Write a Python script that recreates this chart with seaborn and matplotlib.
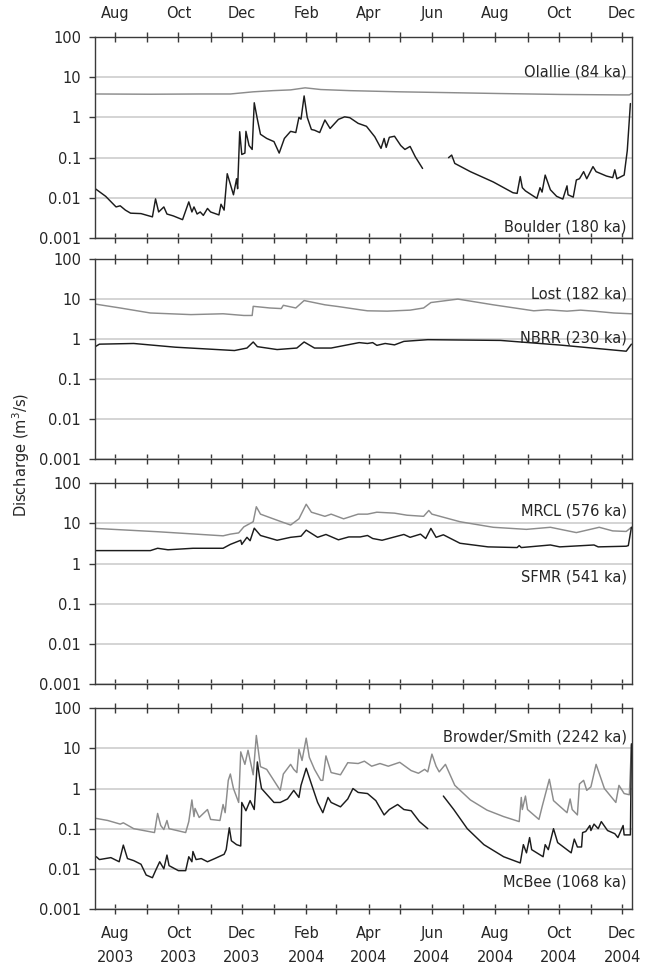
import numpy as np
import pandas as pd
import matplotlib
matplotlib.use("Agg")
import matplotlib.pyplot as plt
import matplotlib.dates as mdates
from matplotlib.ticker import FixedLocator, FuncFormatter, NullLocator
import seaborn as sns

# --- DATA (discharge in m3/s) ---
# gaps in a record are marked with NaN

OLALLIE = [
    ("2003-07-13", 3.8), ("2003-09-04", 3.75), ("2003-10-22", 3.8), ("2003-11-20", 3.8),
    ("2003-12-12", 4.3), ("2003-12-31", 4.6), ("2004-01-17", 4.8), ("2004-01-31", 5.4),
    ("2004-02-15", 4.9), ("2004-03-14", 4.6), ("2004-05-01", 4.3), ("2004-06-18", 4.1),
    ("2004-08-05", 3.9), ("2004-10-03", 3.7), ("2004-11-30", 3.6), ("2004-12-08", 3.6),
    ("2004-12-10", 3.9),
]

BOULDER = [
    ("2003-07-13", 0.017), ("2003-07-23", 0.011), ("2003-08-02", 0.006), ("2003-08-06", 0.0064),
    ("2003-08-11", 0.005), ("2003-08-16", 0.0042), ("2003-08-26", 0.0041), ("2003-09-06", 0.0034),
    ("2003-09-09", 0.0095), ("2003-09-12", 0.0045), ("2003-09-17", 0.006), ("2003-09-20", 0.004),
    ("2003-09-26", 0.0036), ("2003-10-05", 0.0029), ("2003-10-11", 0.008), ("2003-10-14", 0.0045),
    ("2003-10-16", 0.006), ("2003-10-19", 0.004), ("2003-10-22", 0.0045), ("2003-10-25", 0.0037),
    ("2003-10-29", 0.0055), ("2003-11-01", 0.0045), ("2003-11-09", 0.0038), ("2003-11-11", 0.007),
    ("2003-11-14", 0.005), ("2003-11-17", 0.04), ("2003-11-20", 0.022), ("2003-11-23", 0.012),
    ("2003-11-26", 0.03), ("2003-11-27", 0.017), ("2003-11-29", 0.44), ("2003-12-01", 0.12),
    ("2003-12-04", 0.13), ("2003-12-05", 0.45), ("2003-12-08", 0.2), ("2003-12-11", 0.16),
    ("2003-12-13", 2.3), ("2003-12-16", 0.9), ("2003-12-19", 0.38), ("2003-12-25", 0.3),
    ("2004-01-01", 0.25), ("2004-01-06", 0.13), ("2004-01-11", 0.3), ("2004-01-17", 0.45),
    ("2004-01-22", 0.42), ("2004-01-25", 1.0), ("2004-01-27", 0.9), ("2004-01-30", 3.4),
    ("2004-02-02", 1.0), ("2004-02-06", 0.5), ("2004-02-09", 0.48), ("2004-02-14", 0.42),
    ("2004-02-19", 0.86), ("2004-02-24", 0.53), ("2004-03-03", 0.89), ("2004-03-09", 1.03),
    ("2004-03-14", 0.98), ("2004-03-22", 0.71), ("2004-03-30", 0.6), ("2004-04-07", 0.33),
    ("2004-04-13", 0.17), ("2004-04-16", 0.3), ("2004-04-18", 0.18), ("2004-04-21", 0.32),
    ("2004-04-26", 0.34), ("2004-05-02", 0.2), ("2004-05-06", 0.16), ("2004-05-11", 0.19),
    ("2004-05-16", 0.105), ("2004-05-23", 0.054), ("2004-06-05", np.nan), ("2004-06-17", 0.1),
    ("2004-06-20", 0.116), ("2004-06-23", 0.072), ("2004-07-08", 0.045), ("2004-07-30", 0.025),
    ("2004-08-18", 0.0135), ("2004-08-22", 0.013), ("2004-08-25", 0.034), ("2004-08-27", 0.018),
    ("2004-08-30", 0.015), ("2004-09-10", 0.0098), ("2004-09-13", 0.018), ("2004-09-15", 0.014),
    ("2004-09-18", 0.037), ("2004-09-23", 0.016), ("2004-09-29", 0.011), ("2004-10-05", 0.0094),
    ("2004-10-09", 0.02), ("2004-10-10", 0.012), ("2004-10-15", 0.0105), ("2004-10-18", 0.028),
    ("2004-10-21", 0.03), ("2004-10-25", 0.045), ("2004-10-28", 0.03), ("2004-11-03", 0.06),
    ("2004-11-06", 0.045), ("2004-11-16", 0.035), ("2004-11-22", 0.032), ("2004-11-24", 0.05),
    ("2004-11-26", 0.03), ("2004-12-03", 0.037), ("2004-12-06", 0.15), ("2004-12-09", 2.2),
]

LOST = [
    ("2003-07-13", 7.5), ("2003-08-06", 6.0), ("2003-09-04", 4.5), ("2003-10-13", 4.1),
    ("2003-11-13", 4.3), ("2003-12-03", 3.9), ("2003-12-11", 3.9), ("2003-12-12", 6.6),
    ("2003-12-28", 6.0), ("2004-01-08", 5.8), ("2004-01-10", 7.0), ("2004-01-22", 6.0),
    ("2004-01-30", 9.2), ("2004-02-19", 7.2), ("2004-03-03", 6.5), ("2004-03-24", 5.4),
    ("2004-03-31", 5.1), ("2004-04-19", 5.0), ("2004-05-11", 5.3), ("2004-05-24", 6.0),
    ("2004-05-31", 8.2), ("2004-06-26", 10.0), ("2004-07-30", 7.2), ("2004-09-07", 5.1),
    ("2004-09-20", 5.4), ("2004-10-09", 5.0), ("2004-10-22", 5.3), ("2004-11-04", 5.0),
    ("2004-11-23", 4.5), ("2004-12-10", 4.3),
]

NBRR = [
    ("2003-07-13", 0.65), ("2003-07-17", 0.75), ("2003-08-19", 0.78), ("2003-09-28", 0.63),
    ("2003-11-24", 0.52), ("2003-12-06", 0.6), ("2003-12-12", 0.85), ("2003-12-16", 0.65),
    ("2004-01-04", 0.55), ("2004-01-23", 0.6), ("2004-01-30", 0.85), ("2004-02-09", 0.6),
    ("2004-02-25", 0.6), ("2004-03-23", 0.82), ("2004-03-31", 0.78), ("2004-04-05", 0.82),
    ("2004-04-09", 0.7), ("2004-04-17", 0.78), ("2004-04-26", 0.72), ("2004-05-05", 0.88),
    ("2004-05-28", 0.97), ("2004-08-06", 0.93), ("2004-10-03", 0.71), ("2004-12-05", 0.5),
    ("2004-12-10", 0.75),
]

MRCL = [
    ("2003-07-13", 7.5), ("2003-09-11", 6.2), ("2003-11-13", 4.9), ("2003-11-20", 5.4),
    ("2003-11-28", 5.8), ("2003-12-03", 8.2), ("2003-12-12", 11.0), ("2003-12-15", 26.0),
    ("2003-12-19", 17.0), ("2004-01-04", 12.0), ("2004-01-17", 9.1), ("2004-01-25", 13.0),
    ("2004-02-01", 30.0), ("2004-02-06", 19.0), ("2004-02-19", 15.0), ("2004-02-25", 17.0),
    ("2004-03-08", 13.0), ("2004-03-22", 17.0), ("2004-03-31", 17.0), ("2004-04-09", 19.0),
    ("2004-04-26", 18.0), ("2004-05-08", 16.0), ("2004-05-24", 15.0), ("2004-05-29", 21.0),
    ("2004-06-01", 17.0), ("2004-06-28", 11.0), ("2004-07-30", 8.0), ("2004-08-31", 7.1),
    ("2004-09-23", 8.0), ("2004-10-18", 5.9), ("2004-11-09", 8.0), ("2004-11-22", 6.5),
    ("2004-12-05", 6.3), ("2004-12-10", 8.0),
]

SFMR = [
    ("2003-07-13", 2.1), ("2003-09-04", 2.1), ("2003-09-11", 2.4), ("2003-09-21", 2.2),
    ("2003-10-15", 2.4), ("2003-11-13", 2.4), ("2003-11-20", 3.0), ("2003-11-30", 3.8),
    ("2003-12-01", 3.0), ("2003-12-06", 4.5), ("2003-12-09", 3.7), ("2003-12-13", 7.6),
    ("2003-12-19", 5.0), ("2004-01-04", 3.8), ("2004-01-17", 4.5), ("2004-01-27", 4.8),
    ("2004-02-01", 6.8), ("2004-02-12", 4.5), ("2004-02-20", 5.3), ("2004-03-03", 3.9),
    ("2004-03-13", 4.6), ("2004-03-24", 4.6), ("2004-03-31", 5.0), ("2004-04-05", 4.2),
    ("2004-04-14", 3.8), ("2004-05-05", 5.3), ("2004-05-11", 4.5), ("2004-05-21", 5.4),
    ("2004-05-26", 4.2), ("2004-05-31", 7.5), ("2004-06-05", 4.5), ("2004-06-12", 5.2),
    ("2004-06-28", 3.2), ("2004-07-25", 2.6), ("2004-08-22", 2.5), ("2004-08-24", 2.8),
    ("2004-08-26", 2.5), ("2004-09-23", 2.9), ("2004-10-02", 2.6), ("2004-11-04", 2.9),
    ("2004-11-08", 2.6), ("2004-12-05", 2.7), ("2004-12-07", 2.8), ("2004-12-10", 8.0),
]

BROWDER = [
    ("2003-07-14", 0.18), ("2003-07-25", 0.16), ("2003-08-06", 0.13), ("2003-08-09", 0.14),
    ("2003-08-19", 0.1), ("2003-09-08", 0.08), ("2003-09-11", 0.24), ("2003-09-14", 0.12),
    ("2003-09-17", 0.095), ("2003-09-20", 0.16), ("2003-09-22", 0.1), ("2003-10-08", 0.08),
    ("2003-10-11", 0.15), ("2003-10-14", 0.52), ("2003-10-16", 0.2), ("2003-10-17", 0.32),
    ("2003-10-21", 0.19), ("2003-10-29", 0.3), ("2003-11-01", 0.17), ("2003-11-10", 0.16),
    ("2003-11-13", 0.4), ("2003-11-15", 0.25), ("2003-11-18", 1.6), ("2003-11-20", 2.3),
    ("2003-11-23", 1.0), ("2003-11-28", 0.45), ("2003-11-30", 8.2), ("2003-12-04", 4.0),
    ("2003-12-07", 9.0), ("2003-12-12", 2.2), ("2003-12-15", 21.0), ("2003-12-19", 3.5),
    ("2003-12-25", 3.0), ("2004-01-07", 0.9), ("2004-01-10", 2.3), ("2004-01-17", 4.0),
    ("2004-01-20", 3.0), ("2004-01-23", 2.5), ("2004-01-25", 9.5), ("2004-01-28", 5.0),
    ("2004-02-01", 18.0), ("2004-02-04", 6.0), ("2004-02-09", 3.0), ("2004-02-15", 1.6),
    ("2004-02-17", 1.6), ("2004-02-20", 6.5), ("2004-02-25", 2.5), ("2004-03-05", 2.2),
    ("2004-03-12", 4.4), ("2004-03-22", 4.2), ("2004-03-28", 4.8), ("2004-04-04", 3.6),
    ("2004-04-12", 4.2), ("2004-04-20", 3.6), ("2004-05-01", 4.5), ("2004-05-12", 2.8),
    ("2004-05-19", 2.4), ("2004-05-25", 3.0), ("2004-05-28", 2.6), ("2004-06-01", 7.2),
    ("2004-06-05", 3.6), ("2004-06-08", 2.6), ("2004-06-14", 4.0), ("2004-06-23", 1.2),
    ("2004-07-08", 0.52), ("2004-07-24", 0.29), ("2004-08-09", 0.2), ("2004-08-24", 0.15),
    ("2004-08-26", 0.6), ("2004-08-27", 0.3), ("2004-08-30", 0.65), ("2004-09-01", 0.3),
    ("2004-09-12", 0.17), ("2004-09-15", 0.35), ("2004-09-22", 1.7), ("2004-09-26", 0.5),
    ("2004-10-09", 0.25), ("2004-10-12", 0.55), ("2004-10-14", 0.3), ("2004-10-19", 0.22),
    ("2004-10-21", 1.3), ("2004-10-25", 1.6), ("2004-10-28", 0.9), ("2004-11-01", 1.1),
    ("2004-11-06", 4.0), ("2004-11-14", 1.0), ("2004-11-25", 0.45), ("2004-11-28", 1.2),
    ("2004-12-03", 0.75), ("2004-12-08", 0.7), ("2004-12-10", 12.0),
]

MCBEE = [
    ("2003-07-14", 0.02), ("2003-07-17", 0.017), ("2003-07-28", 0.019), ("2003-08-05", 0.015),
    ("2003-08-09", 0.039), ("2003-08-13", 0.018), ("2003-08-19", 0.016), ("2003-08-26", 0.013),
    ("2003-08-31", 0.007), ("2003-09-06", 0.006), ("2003-09-09", 0.009), ("2003-09-13", 0.015),
    ("2003-09-17", 0.01), ("2003-09-20", 0.022), ("2003-09-22", 0.012), ("2003-10-01", 0.009),
    ("2003-10-08", 0.009), ("2003-10-11", 0.02), ("2003-10-14", 0.015), ("2003-10-15", 0.027),
    ("2003-10-18", 0.017), ("2003-10-23", 0.018), ("2003-10-29", 0.015), ("2003-11-05", 0.018),
    ("2003-11-14", 0.023), ("2003-11-16", 0.03), ("2003-11-19", 0.105), ("2003-11-21", 0.05),
    ("2003-11-26", 0.04), ("2003-11-30", 0.037), ("2003-12-01", 0.45), ("2003-12-05", 0.28),
    ("2003-12-09", 0.5), ("2003-12-13", 0.3), ("2003-12-16", 4.6), ("2003-12-18", 2.0),
    ("2003-12-20", 1.0), ("2003-12-29", 0.55), ("2004-01-01", 0.45), ("2004-01-07", 0.45),
    ("2004-01-14", 0.55), ("2004-01-20", 0.9), ("2004-01-25", 0.6), ("2004-01-27", 1.2),
    ("2004-02-01", 3.2), ("2004-02-06", 1.3), ("2004-02-12", 0.45), ("2004-02-17", 0.25),
    ("2004-02-22", 0.6), ("2004-02-25", 0.45), ("2004-03-05", 0.35), ("2004-03-12", 0.55),
    ("2004-03-17", 1.0), ("2004-03-22", 0.8), ("2004-03-31", 0.75), ("2004-04-08", 0.5),
    ("2004-04-16", 0.22), ("2004-04-21", 0.3), ("2004-04-29", 0.4), ("2004-05-05", 0.3),
    ("2004-05-12", 0.28), ("2004-05-20", 0.15), ("2004-05-28", 0.1), ("2004-06-05", np.nan),
    ("2004-06-12", 0.65), ("2004-06-22", 0.3), ("2004-07-05", 0.1), ("2004-07-21", 0.04),
    ("2004-08-09", 0.02), ("2004-08-25", 0.014), ("2004-08-28", 0.04), ("2004-08-31", 0.025),
    ("2004-09-03", 0.06), ("2004-09-05", 0.03), ("2004-09-16", 0.02), ("2004-09-18", 0.04),
    ("2004-09-21", 0.03), ("2004-09-26", 0.1), ("2004-09-30", 0.045), ("2004-10-13", 0.025),
    ("2004-10-16", 0.055), ("2004-10-19", 0.035), ("2004-10-23", 0.035), ("2004-10-24", 0.08),
    ("2004-10-27", 0.085), ("2004-10-31", 0.12), ("2004-11-01", 0.09), ("2004-11-04", 0.13),
    ("2004-11-08", 0.1), ("2004-11-11", 0.15), ("2004-11-17", 0.09), ("2004-11-24", 0.075),
    ("2004-11-27", 0.06), ("2004-12-02", 0.12), ("2004-12-03", 0.07), ("2004-12-09", 0.07),
    ("2004-12-10", 13.0),
]

# --- panel contents: (gray series, black series, labels) ---
PANELS = [
    (OLALLIE, BOULDER, "Olallie (84 ka)", "Boulder (180 ka)"),
    (LOST, NBRR, "Lost (182 ka)", "NBRR (230 ka)"),
    (MRCL, SFMR, "MRCL (576 ka)", "SFMR (541 ka)"),
    (BROWDER, MCBEE, "Browder/Smith (2242 ka)", "McBee (1068 ka)"),
]
LABEL_Y = [(0.825, 0.057), (0.824, 0.606), (0.863, 0.531), (0.859, 0.136)]

Y_TICKS = [0.001, 0.01, 0.1, 1, 10, 100]

# --- styling ---
sns.set_theme(style="white")
plt.rcParams["font.family"] = ["DejaVu Sans"]
plt.rcParams["font.size"] = 10.5

BLACK = "#1c1c1c"
GRAY = "#8c8c8c"
GRID = "#c9c9c9"
SPINE = "#3a3a3a"
TEXT = "#262626"


def to_frame(pairs):
    df = pd.DataFrame(pairs, columns=["date", "q"])
    df["date"] = pd.to_datetime(df["date"])
    # a NaN row starts a new segment, so the line breaks there
    df["seg"] = df["q"].isna().cumsum()
    return df.dropna()


fig = plt.figure(figsize=(6.45, 9.64), dpi=100)
boxes = [
    (0.1473, 0.7528, 0.8326, 0.2091),
    (0.1473, 0.5235, 0.8326, 0.2078),
    (0.1473, 0.2905, 0.8326, 0.2082),
    (0.1473, 0.0571, 0.8326, 0.2082),
]
x_lo = pd.Timestamp("2003-07-12 18:00")
x_hi = pd.Timestamp("2004-12-10 14:00")

for i, (gray_s, black_s, gray_lab, black_lab) in enumerate(PANELS):
    ax = fig.add_axes(boxes[i])
    ax.set_yscale("log")

    for series, col in [(gray_s, GRAY), (black_s, BLACK)]:
        df = to_frame(series)
        sns.lineplot(data=df, x="date", y="q", units="seg", estimator=None,
                     color=col, lw=1.05, ax=ax, legend=False)

    ax.set_xlim(x_lo, x_hi)
    ax.set_ylim(0.001, 100)
    ax.set_xlabel("")
    ax.set_ylabel("")

    # y axis: decades only, plain numbers
    ax.yaxis.set_major_locator(FixedLocator(Y_TICKS))
    ax.yaxis.set_major_formatter(FuncFormatter(lambda v, p: f"{v:g}"))
    ax.yaxis.set_minor_locator(NullLocator())
    ax.yaxis.grid(True, color=GRID, lw=1.1)
    ax.xaxis.grid(False)
    ax.set_axisbelow(True)

    # x axis: a tick every month, label every second month
    ax.xaxis.set_major_locator(mdates.MonthLocator(bymonth=[2, 4, 6, 8, 10, 12]))
    ax.xaxis.set_minor_locator(mdates.MonthLocator(bymonth=[1, 3, 5, 7, 9, 11]))
    if i == 3:
        ax.xaxis.set_major_formatter(mdates.DateFormatter("%b\n%Y"))
    else:
        ax.xaxis.set_major_formatter(mdates.DateFormatter("%b"))

    ax.tick_params(axis="x", which="both", direction="inout", length=7, width=1,
                   color=SPINE, top=True, bottom=True,
                   labeltop=(i == 0), labelbottom=(i == 3),
                   pad=9 if i == 3 else 8, labelcolor=TEXT, labelsize=10.5)
    ax.tick_params(axis="y", which="major", direction="out", length=4, width=1,
                   color=SPINE, left=True, right=False, pad=6,
                   labelcolor=TEXT, labelsize=10.5)
    if i == 3:
        plt.setp(ax.get_xticklabels(), linespacing=1.75)

    for sp in ax.spines.values():
        sp.set_color(SPINE)
        sp.set_linewidth(1.0)

    ax.text(0.99, LABEL_Y[i][0], gray_lab, transform=ax.transAxes,
            ha="right", va="center", color=TEXT, fontsize=10.5)
    ax.text(0.99, LABEL_Y[i][1], black_lab, transform=ax.transAxes,
            ha="right", va="center", color=TEXT, fontsize=10.5)

fig.text(0.033, 0.528, "Discharge (m$^3$/s)", rotation=90,
         ha="center", va="center", color=TEXT, fontsize=10.5)

fig.savefig("out.png", dpi=100)
plt.close(fig)
